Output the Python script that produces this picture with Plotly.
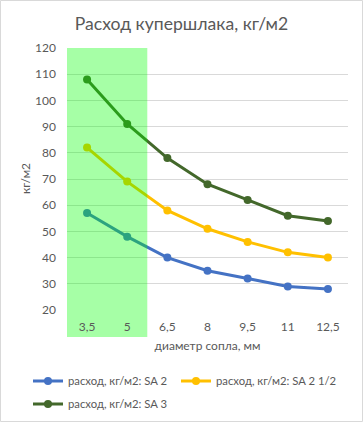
import plotly.graph_objects as go

categories = ["3,5", "5", "6,5", "8", "9,5", "11", "12,5"]
sa2 = [57, 48, 40, 35, 32, 29, 28]
sa2_half = [82, 69, 58, 51, 46, 42, 40]
sa3 = [108, 91, 78, 68, 62, 56, 54]
series_names = ["расход, кг/м2: SA 2", "расход, кг/м2: SA 2 1/2", "расход, кг/м2: SA 3"]
series_colors = ["#4472C4", "#FFC000", "#43682B"]
series_legends = ["legend", "legend2", "legend3"]

W, H = 363, 422
ml, mr, mt, mb = 67, 15, 48, 112
ph = H - mt - mb
pw = W - ml - mr

FONT = "Lato, 'Open Sans', sans-serif"
GRAY = "#595959"

fig = go.Figure()
for name, vals, col, lg in zip(series_names, [sa2, sa2_half, sa3], series_colors, series_legends):
    fig.add_trace(go.Scatter(
        x=categories, y=vals, name=name, mode="lines+markers",
        line=dict(color=col, width=3),
        marker=dict(color=col, size=8), legend=lg,
    ))

shapes = [
    dict(type="rect", xref="x", yref="paper", x0=-0.5, x1=1.5, y0=0, y1=1,
         fillcolor="rgba(0,255,0,0.35)", line=dict(width=0), layer="above"),
    dict(type="rect", xref="x", yref="paper", x0=-0.5, x1=1.5,
         y0=-(337 - (H - mb)) / ph, y1=0,
         fillcolor="rgba(0,255,0,0.35)", line=dict(width=0), layer="below"),
    dict(type="rect", xref="paper", yref="paper",
         x0=(0.5 - ml) / pw, x1=(W - 0.5 - ml) / pw,
         y0=-(mb - 0.5) / ph, y1=1 + (mt - 0.5) / ph,
         line=dict(color="#D9D9D9", width=1), fillcolor="rgba(0,0,0,0)", layer="below"),
]

legend_common = dict(orientation="h", xanchor="left", yanchor="middle",
                     font=dict(size=11.3, color=GRAY), itemwidth=30,
                     bgcolor="rgba(0,0,0,0)")

fig.update_layout(
    width=W, height=H,
    margin=dict(l=ml, r=mr, t=mt, b=mb, autoexpand=False),
    paper_bgcolor="white", plot_bgcolor="white",
    font=dict(family=FONT, color=GRAY, size=12),
    title=dict(text="Расход купершлака, кг/м2", x=0.5, xref="container", xanchor="center",
               y=1 - 24 / H, yref="container", yanchor="middle", font=dict(size=17.6, color=GRAY)),
    shapes=shapes,
    annotations=[dict(text="кг/м2", xref="paper", yref="paper",
                      x=(25 - ml) / pw, y=0.5, xanchor="center", yanchor="middle",
                      textangle=-90, showarrow=False, font=dict(size=12, color=GRAY))],
    showlegend=True,
    legend=dict(x=(28 - ml) / pw, y=-(381 - (H - mb)) / ph, **legend_common),
    legend2=dict(x=(176 - ml) / pw, y=-(381 - (H - mb)) / ph, **legend_common),
    legend3=dict(x=(28 - ml) / pw, y=-(404 - (H - mb)) / ph, **legend_common),
    xaxis=dict(type="category", range=[-0.5, 6.5], showgrid=False, showline=False,
               zeroline=False, ticks="", ticklabelstandoff=8, automargin=False,
               tickfont=dict(size=12, color=GRAY),
               title=dict(text="диаметр сопла, мм", font=dict(size=12, color=GRAY), standoff=8)),
    yaxis=dict(range=[20, 120], dtick=10, showgrid=True, gridcolor="#D9D9D9", gridwidth=1,
               zeroline=False, showline=False, ticks="", ticklabelstandoff=10, automargin=False,
               tickfont=dict(size=12, color=GRAY)),
)

fig.write_html("out.html", config={"displayModeBar": False},
               post_script="document.body.style.margin='0';")
